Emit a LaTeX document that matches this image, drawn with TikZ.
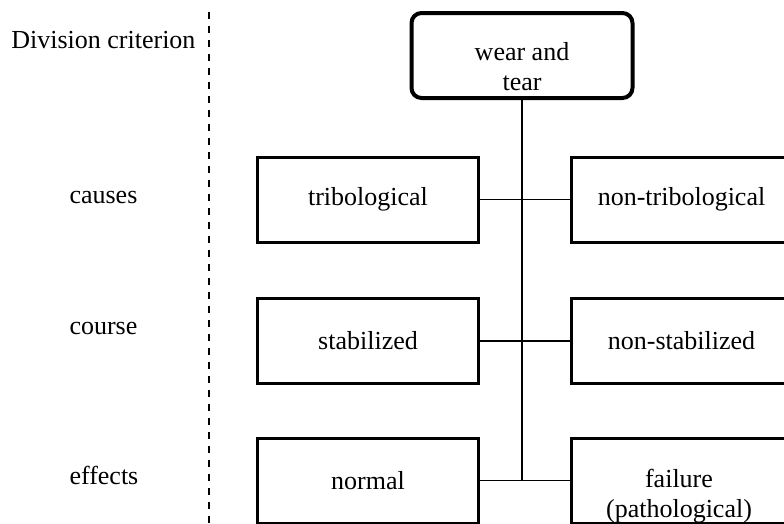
\documentclass[tikz,border=0pt]{standalone}
\usepackage{fontspec}
\setmainfont{Liberation Serif}
\usetikzlibrary{positioning, calc}

\begin{document}
\begin{tikzpicture}[
    x=1pt, y=-1pt,
    font=\fontsize{26}{30}\selectfont,
    catbox/.style={rectangle, draw, line width=3pt, minimum width=221pt, minimum height=85pt, align=center, inner sep=2pt},
    rootbox/.style={catbox, line width=4pt, rounded corners=10pt},
    boxtext/.style={align=center, inner sep=0pt},
    link/.style={line width=1.8pt},
    crit/.style={anchor=west}
]
\useasboundingbox (0,0) rectangle (784,523);
\clip (0,0) rectangle (784,523);

% Root
\node[rootbox] (wear) at (522, 55.5) {};
\node[boxtext] (weartext) at (522, 67) {wear and\\tear};

% Left column
\node[catbox] (trib) at (368, 199.5) {tribological};
\node[catbox] (stab) at (368, 341) {stabilized};
\node[catbox] (normal) at (368, 480.5) {normal};

% Right column
\node[catbox] (nontrib) at (681.5, 199.5) {non-tribological};
\node[catbox] (nonstab) at (681.5, 341) {non-stabilized};
\node[catbox] (failure) at (681.5, 480.5) {};
\node[boxtext] (failtext) at (679, 496) {failure\\(pathological)};

% Criteria
\node[anchor=east] (divcrit) at (199, 40) {Division criterion};
\node[crit] (causes) at (66, 197) {causes};
\node[crit] (course) at (66, 328) {course};
\node[crit] (effects) at (66, 475) {effects};

% Separator
\coordinate (septop) at (209, 12);
\coordinate (sepbot) at (209, 523);
\draw[line width=1.8pt, dash pattern=on 7pt off 7pt] (septop) -- (sepbot);

% Connectors
\draw[link] (wear.south) -- (wear.south |- normal.east);
\draw[link] (trib.east) -- (nontrib.west);
\draw[link] (stab.east) -- (nonstab.west);
\draw[link] (normal.east) -- (failure.west);

\end{tikzpicture}
\end{document}
